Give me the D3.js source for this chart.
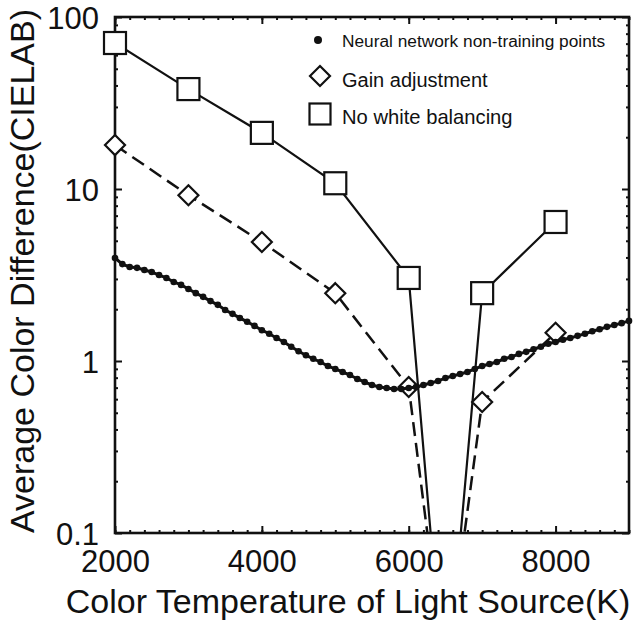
<!DOCTYPE html>
<html>
<head>
<meta charset="utf-8">
<script src="https://cdn.jsdelivr.net/npm/d3@7/dist/d3.min.js"></script>
<style>
  html, body { margin: 0; padding: 0; background: #fff; }
  svg { display: block; }
  text { font-family: "Liberation Sans", Arial, Helvetica, sans-serif; fill: #111; }
</style>
</head>
<body>
<svg id="chart" width="638" height="627"></svg>
<script>
// ---- Data ----
const noWhiteTemps  = [2000, 3000, 4000, 5000, 6000, 6500, 7000, 8000];
const noWhiteValues = [70.6, 38.1, 21.2, 10.8, 3.04, 0.01, 2.48, 6.43];

const gainTemps  = [2000, 3000, 4000, 5000, 6000, 6500, 7000, 8000];
const gainValues = [18.0, 9.2, 4.92, 2.48, 0.706, 0.015, 0.578, 1.46];

// neural-network non-training points, every 100 K from 2000 K to 9000 K
const neuralTemps = d3.range(2000, 9001, 100);
const neuralValues = [
  3.97, 3.66, 3.52, 3.48, 3.38, 3.29, 3.16, 3.04, 2.88, 2.77,
  2.62, 2.48, 2.36, 2.23, 2.12, 1.98, 1.88, 1.78, 1.69, 1.60,
  1.51, 1.44, 1.36, 1.29, 1.21, 1.14, 1.08, 1.03, 0.987, 0.935,
  0.899, 0.863, 0.829, 0.786, 0.755, 0.725, 0.706, 0.697, 0.688, 0.688,
  0.697, 0.706, 0.725, 0.745, 0.765, 0.797, 0.818, 0.840, 0.863, 0.899,
  0.935, 0.961, 0.987, 1.03, 1.055, 1.10, 1.13, 1.17, 1.21, 1.26,
  1.29, 1.33, 1.36, 1.40, 1.44, 1.49, 1.53, 1.58, 1.62, 1.66,
  1.71
];

const xTickValues = [2000, 4000, 6000, 8000];
const xTickLabels = ["2000", "4000", "6000", "8000"];
const yTickValues = [0.1, 1, 10, 100];
const yTickLabels = ["0.1", "1", "10", "100"];

const legendLabels = ["Neural network non-training points", "Gain adjustment", "No white balancing"];
const xTitle = "Color Temperature of Light Source(K)";
const yTitle = "Average Color Difference(CIELAB)";

// ---- Layout ----
const svg = d3.select("#chart");
const L = 115, R = 629, T = 17, B = 533;

const x = d3.scaleLinear().domain([2000, 9000]).range([L, R]);
const y = d3.scaleLog().domain([0.1, 100]).range([B, T]);

// clip
svg.append("defs").append("clipPath").attr("id", "plotclip")
  .append("rect").attr("x", L).attr("y", T).attr("width", R - L).attr("height", B - T);

// ---- Axes (inward ticks on all four sides) ----
const xMinor = d3.range(2000, 9001, 200);
const yMinor = [];
for (let e = -1; e < 2; e++) for (let m = 2; m <= 9; m++) yMinor.push(m * Math.pow(10, e));

function styleAxis(g) {
  g.select(".domain").remove();
  g.selectAll("line").attr("stroke", "#111").attr("stroke-width", 2);
}

// bottom
svg.append("g").attr("transform", `translate(0,${B})`)
  .call(d3.axisBottom(x).tickValues(xMinor).tickSize(-3).tickFormat(""))
  .call(styleAxis);
svg.append("g").attr("transform", `translate(0,${B})`)
  .call(d3.axisBottom(x).tickValues(xTickValues).tickSize(-7).tickPadding(17)
    .tickFormat((d, i) => xTickLabels[i]))
  .call(styleAxis)
  .call(g => g.selectAll("text").attr("font-size", 31).attr("fill", "#111")
    .attr("font-family", '"Liberation Sans", Arial, sans-serif'));
// top
svg.append("g").attr("transform", `translate(0,${T})`)
  .call(d3.axisTop(x).tickValues(xMinor).tickSize(-3).tickFormat(""))
  .call(styleAxis);
svg.append("g").attr("transform", `translate(0,${T})`)
  .call(d3.axisTop(x).tickValues(xTickValues).tickSize(-7).tickFormat(""))
  .call(styleAxis);
// left
svg.append("g").attr("transform", `translate(${L},0)`)
  .call(d3.axisLeft(y).tickValues(yMinor).tickSize(-3).tickFormat(""))
  .call(styleAxis);
svg.append("g").attr("transform", `translate(${L},0)`)
  .call(d3.axisLeft(y).tickValues(yTickValues).tickSize(-7).tickPadding(16)
    .tickFormat((d, i) => yTickLabels[i]))
  .call(styleAxis)
  .call(g => g.selectAll("text").attr("font-size", 31).attr("fill", "#111")
    .attr("dy", "0.36em")
    .attr("font-family", '"Liberation Sans", Arial, sans-serif'));
// right
svg.append("g").attr("transform", `translate(${R},0)`)
  .call(d3.axisRight(y).tickValues(yMinor).tickSize(-3).tickFormat(""))
  .call(styleAxis);
svg.append("g").attr("transform", `translate(${R},0)`)
  .call(d3.axisRight(y).tickValues(yTickValues).tickSize(-7).tickFormat(""))
  .call(styleAxis);

// frame
svg.append("rect").attr("x", L).attr("y", T).attr("width", R - L).attr("height", B - T)
  .attr("fill", "none").attr("stroke", "#111").attr("stroke-width", 2.6);

// ---- Series ----
const plot = svg.append("g").attr("clip-path", "url(#plotclip)");
const lineGen = d3.line().x(d => x(d[0])).y(d => y(d[1]));

const noWhite = noWhiteTemps.map((t, i) => [t, noWhiteValues[i]]);
const gain = gainTemps.map((t, i) => [t, gainValues[i]]);
const neural = neuralTemps.map((t, i) => [t, neuralValues[i]]);

plot.append("path").datum(noWhite).attr("d", lineGen)
  .attr("fill", "none").attr("stroke", "#111").attr("stroke-width", 2.2);
plot.append("path").datum(gain).attr("d", lineGen)
  .attr("fill", "none").attr("stroke", "#111").attr("stroke-width", 2.5)
  .attr("stroke-dasharray", "14,7");

// markers (real points only, i.e. those inside the plotted range)
const sq = 22, dh = 10;
svg.append("g").selectAll("rect").data(noWhite.filter(d => d[1] >= 0.1)).join("rect")
  .attr("x", d => x(d[0]) - sq / 2).attr("y", d => y(d[1]) - sq / 2)
  .attr("width", sq).attr("height", sq)
  .attr("fill", "#fff").attr("stroke", "#111").attr("stroke-width", 2.2);

const diamond = (cx, cy) => `M${cx},${cy - dh}L${cx + dh},${cy}L${cx},${cy + dh}L${cx - dh},${cy}Z`;
svg.append("g").selectAll("path").data(gain.filter(d => d[1] >= 0.1)).join("path")
  .attr("d", d => diamond(x(d[0]), y(d[1])))
  .attr("fill", "#fff").attr("stroke", "#111").attr("stroke-width", 2.2);

// neural curve
svg.append("path").datum(neural).attr("d", lineGen)
  .attr("fill", "none").attr("stroke", "#111").attr("stroke-width", 3);
svg.append("g").selectAll("circle").data(neural).join("circle")
  .attr("cx", d => x(d[0])).attr("cy", d => y(d[1])).attr("r", 3.3).attr("fill", "#111");

// ---- Legend ----
const lg = svg.append("g");
lg.append("circle").attr("cx", 318).attr("cy", 40).attr("r", 4).attr("fill", "#111");
lg.append("text").attr("x", 342).attr("y", 47).attr("font-size", 17.3).text(legendLabels[0]);
lg.append("path").attr("d", diamond(320, 76))
  .attr("fill", "#fff").attr("stroke", "#111").attr("stroke-width", 2.2);
lg.append("text").attr("x", 342).attr("y", 87).attr("font-size", 20).text(legendLabels[1]);
lg.append("rect").attr("x", 320 - 10.5).attr("y", 114 - 10.5).attr("width", 21).attr("height", 21)
  .attr("fill", "#fff").attr("stroke", "#111").attr("stroke-width", 2.2);
lg.append("text").attr("x", 342).attr("y", 124).attr("font-size", 20.2).text(legendLabels[2]);

// ---- Titles ----
svg.append("text").attr("x", 348).attr("y", 613).attr("text-anchor", "middle")
  .attr("font-size", 34).text(xTitle);
svg.append("text").attr("transform", "translate(34,271) rotate(-90)")
  .attr("text-anchor", "middle").attr("font-size", 34).text(yTitle);
</script>
</body>
</html>
